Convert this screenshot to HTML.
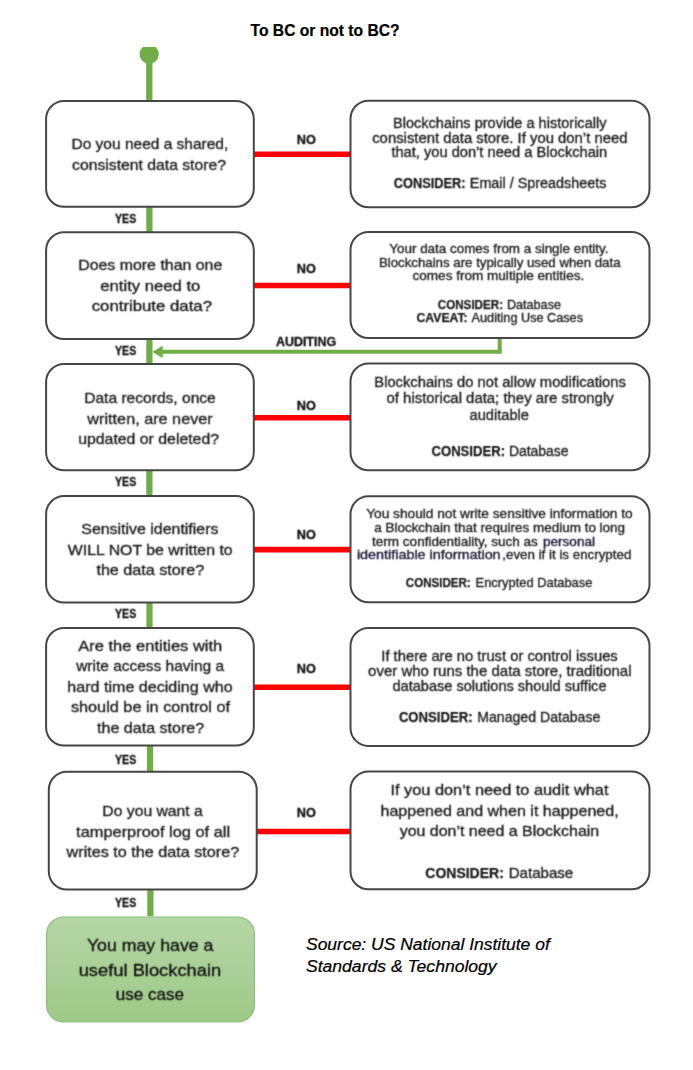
<!DOCTYPE html>
<html><head><meta charset="utf-8"><title>To BC or not to BC?</title>
<style>
html,body{margin:0;padding:0;background:#fff;}
body{width:693px;height:1070px;overflow:hidden;position:relative;}
svg{position:absolute;left:0;top:0;display:block;}
text{font-family:"Liberation Sans", sans-serif;}
</style></head><body>
<svg width="693" height="1070" viewBox="0 0 693 1070">
<filter id="bl" x="0" y="0" width="693" height="1070" filterUnits="userSpaceOnUse"><feConvolveMatrix order="3" kernelMatrix="0.02768 0.11101 0.02768 0.11101 0.44521 0.11101 0.02768 0.11101 0.02768" preserveAlpha="false"/></filter>
<line x1="149.3" y1="56.0" x2="149.3" y2="101.0" stroke="#70ad47" stroke-width="6.3"/>
<line x1="149.4" y1="206.8" x2="149.4" y2="232.2" stroke="#70ad47" stroke-width="6.2"/>
<line x1="149.4" y1="339.0" x2="149.4" y2="364.0" stroke="#70ad47" stroke-width="6.2"/>
<line x1="149.4" y1="470.2" x2="149.4" y2="495.9" stroke="#70ad47" stroke-width="6.2"/>
<line x1="149.5" y1="602.6" x2="149.5" y2="628.0" stroke="#70ad47" stroke-width="6.2"/>
<line x1="150.0" y1="745.6" x2="150.0" y2="771.7" stroke="#70ad47" stroke-width="6.2"/>
<line x1="150.4" y1="889.5" x2="150.4" y2="916.2" stroke="#70ad47" stroke-width="6.2"/>
<line x1="253.8" y1="154.3" x2="350.5" y2="154.3" stroke="#ff0000" stroke-width="5.6"/>
<line x1="253.8" y1="285.5" x2="350.5" y2="285.5" stroke="#ff0000" stroke-width="5.6"/>
<line x1="253.8" y1="417.8" x2="350.5" y2="417.8" stroke="#ff0000" stroke-width="5.6"/>
<line x1="253.8" y1="549.6" x2="350.5" y2="549.6" stroke="#ff0000" stroke-width="5.6"/>
<line x1="253.8" y1="687.3" x2="350.5" y2="687.3" stroke="#ff0000" stroke-width="5.6"/>
<line x1="256.7" y1="831.5" x2="350.5" y2="831.5" stroke="#ff0000" stroke-width="5.6"/>
<line x1="499.7" y1="338.1" x2="499.7" y2="351.8" stroke="#70ad47" stroke-width="4"/>
<line x1="501.7" y1="351.8" x2="160.0" y2="351.8" stroke="#70ad47" stroke-width="3.9"/>
<polygon points="152.3,351.9 162.7,345.8 162.7,357.9" fill="#70ad47"/>
<clipPath id="cc"><rect x="130" y="46.9" width="40" height="30"/></clipPath><circle cx="149.2" cy="54.2" r="9.6" fill="#70ad47" clip-path="url(#cc)"/>
<rect x="46.1" y="100.9" width="207.7" height="105.9" rx="18" ry="18" fill="#fff" stroke="#464646" stroke-width="2"/>
<rect x="46.1" y="232.2" width="207.7" height="106.8" rx="18" ry="18" fill="#fff" stroke="#464646" stroke-width="2"/>
<rect x="46.1" y="364.0" width="207.7" height="106.2" rx="18" ry="18" fill="#fff" stroke="#464646" stroke-width="2"/>
<rect x="46.1" y="495.9" width="207.7" height="106.7" rx="18" ry="18" fill="#fff" stroke="#464646" stroke-width="2"/>
<rect x="46.1" y="628.0" width="207.7" height="117.6" rx="18" ry="18" fill="#fff" stroke="#464646" stroke-width="2"/>
<rect x="48.8" y="771.7" width="207.9" height="117.8" rx="18" ry="18" fill="#fff" stroke="#464646" stroke-width="2"/>
<rect x="350.5" y="100.8" width="299.0" height="106.5" rx="18" ry="18" fill="#fff" stroke="#464646" stroke-width="2"/>
<rect x="350.5" y="232.0" width="299.0" height="106.1" rx="18" ry="18" fill="#fff" stroke="#464646" stroke-width="2"/>
<rect x="350.5" y="363.5" width="299.0" height="106.8" rx="18" ry="18" fill="#fff" stroke="#464646" stroke-width="2"/>
<rect x="350.5" y="496.3" width="299.0" height="105.9" rx="18" ry="18" fill="#fff" stroke="#464646" stroke-width="2"/>
<rect x="350.5" y="627.9" width="299.0" height="118.0" rx="18" ry="18" fill="#fff" stroke="#464646" stroke-width="2"/>
<rect x="350.5" y="771.5" width="299.0" height="117.8" rx="18" ry="18" fill="#fff" stroke="#464646" stroke-width="2"/>
<defs><linearGradient id="g" x1="0" y1="0" x2="0" y2="1"><stop offset="0" stop-color="#b5d6a6"/><stop offset="1" stop-color="#9ec987"/></linearGradient></defs>
<rect x="46.6" y="917.0" width="207.9" height="105.0" rx="17" ry="17" fill="url(#g)" stroke="#90bf7c" stroke-width="1.2"/>
<g filter="url(#bl)">
<text x="71.50" y="148.80" font-size="14.60" textLength="156.77" lengthAdjust="spacingAndGlyphs" fill="#1a1a1a" stroke="#1a1a1a" stroke-width="0.3">Do you need a shared,</text>
<text x="72.10" y="169.60" font-size="14.60" textLength="153.88" lengthAdjust="spacingAndGlyphs" fill="#1a1a1a" stroke="#1a1a1a" stroke-width="0.3">consistent data store?</text>
<text x="78.20" y="270.30" font-size="14.60" textLength="144.12" lengthAdjust="spacingAndGlyphs" fill="#1a1a1a" stroke="#1a1a1a" stroke-width="0.3">Does more than one</text>
<text x="100.30" y="291.00" font-size="14.60" textLength="99.99" lengthAdjust="spacingAndGlyphs" fill="#1a1a1a" stroke="#1a1a1a" stroke-width="0.3">entity need to</text>
<text x="91.70" y="311.30" font-size="14.60" textLength="120.33" lengthAdjust="spacingAndGlyphs" fill="#1a1a1a" stroke="#1a1a1a" stroke-width="0.3">contribute data?</text>
<text x="84.20" y="402.80" font-size="14.60" textLength="131.58" lengthAdjust="spacingAndGlyphs" fill="#1a1a1a" stroke="#1a1a1a" stroke-width="0.3">Data records, once</text>
<text x="87.38" y="423.60" font-size="14.60" textLength="125.33" lengthAdjust="spacingAndGlyphs" fill="#1a1a1a" stroke="#1a1a1a" stroke-width="0.3">written, are never</text>
<text x="78.20" y="443.80" font-size="14.60" textLength="140.83" lengthAdjust="spacingAndGlyphs" fill="#1a1a1a" stroke="#1a1a1a" stroke-width="0.3">updated or deleted?</text>
<text x="81.30" y="534.30" font-size="14.60" textLength="137.11" lengthAdjust="spacingAndGlyphs" fill="#1a1a1a" stroke="#1a1a1a" stroke-width="0.3">Sensitive identifiers</text>
<text x="67.80" y="554.60" font-size="14.60" textLength="164.86" lengthAdjust="spacingAndGlyphs" fill="#1a1a1a" stroke="#1a1a1a" stroke-width="0.3">WILL NOT be written to</text>
<text x="96.40" y="575.30" font-size="14.60" textLength="107.82" lengthAdjust="spacingAndGlyphs" fill="#1a1a1a" stroke="#1a1a1a" stroke-width="0.3">the data store?</text>
<text x="78.20" y="650.60" font-size="14.60" textLength="144.13" lengthAdjust="spacingAndGlyphs" fill="#1a1a1a" stroke="#1a1a1a" stroke-width="0.3">Are the entities with</text>
<text x="76.18" y="670.80" font-size="14.60" textLength="147.95" lengthAdjust="spacingAndGlyphs" fill="#1a1a1a" stroke="#1a1a1a" stroke-width="0.3">write access having a</text>
<text x="67.30" y="691.60" font-size="14.60" textLength="165.38" lengthAdjust="spacingAndGlyphs" fill="#1a1a1a" stroke="#1a1a1a" stroke-width="0.3">hard time deciding who</text>
<text x="70.90" y="712.40" font-size="14.60" textLength="159.19" lengthAdjust="spacingAndGlyphs" fill="#1a1a1a" stroke="#1a1a1a" stroke-width="0.3">should be in control of</text>
<text x="97.10" y="733.20" font-size="14.60" textLength="107.12" lengthAdjust="spacingAndGlyphs" fill="#1a1a1a" stroke="#1a1a1a" stroke-width="0.3">the data store?</text>
<text x="102.30" y="816.30" font-size="14.60" textLength="100.56" lengthAdjust="spacingAndGlyphs" fill="#1a1a1a" stroke="#1a1a1a" stroke-width="0.3">Do you want a</text>
<text x="76.10" y="836.60" font-size="14.60" textLength="153.99" lengthAdjust="spacingAndGlyphs" fill="#1a1a1a" stroke="#1a1a1a" stroke-width="0.3">tamperproof log of all</text>
<text x="66.58" y="857.30" font-size="14.60" textLength="172.58" lengthAdjust="spacingAndGlyphs" fill="#1a1a1a" stroke="#1a1a1a" stroke-width="0.3">writes to the data store?</text>
<text x="393.00" y="128.20" font-size="14.00" textLength="213.48" lengthAdjust="spacingAndGlyphs" fill="#1a1a1a" stroke="#1a1a1a" stroke-width="0.3">Blockchains provide a historically</text>
<text x="372.20" y="142.80" font-size="14.00" textLength="255.27" lengthAdjust="spacingAndGlyphs" fill="#1a1a1a" stroke="#1a1a1a" stroke-width="0.3">consistent data store. If you don’t need</text>
<text x="391.40" y="157.20" font-size="14.00" textLength="215.87" lengthAdjust="spacingAndGlyphs" fill="#1a1a1a" stroke="#1a1a1a" stroke-width="0.3">that, you don’t need a Blockchain</text>
<text x="393.70" y="187.90" font-size="14.00" textLength="71.82" lengthAdjust="spacingAndGlyphs" fill="#1a1a1a" stroke="#1a1a1a" stroke-width="0.25"><tspan font-weight="bold">CONSIDER:</tspan></text>
<text x="469.80" y="187.90" font-size="14.00" textLength="136.70" lengthAdjust="spacingAndGlyphs" fill="#1a1a1a" stroke="#1a1a1a" stroke-width="0.3">Email / Spreadsheets</text>
<text x="389.30" y="253.20" font-size="12.20" textLength="219.23" lengthAdjust="spacingAndGlyphs" fill="#1a1a1a" stroke="#1a1a1a" stroke-width="0.3">Your data comes from a single entity.</text>
<text x="378.90" y="267.20" font-size="12.20" textLength="241.67" lengthAdjust="spacingAndGlyphs" fill="#1a1a1a" stroke="#1a1a1a" stroke-width="0.3">Blockchains are typically used when data</text>
<text x="412.50" y="280.40" font-size="12.20" textLength="171.72" lengthAdjust="spacingAndGlyphs" fill="#1a1a1a" stroke="#1a1a1a" stroke-width="0.3">comes from multiple entities.</text>
<text x="437.80" y="309.00" font-size="12.20" textLength="65.22" lengthAdjust="spacingAndGlyphs" fill="#1a1a1a" stroke="#1a1a1a" stroke-width="0.25"><tspan font-weight="bold">CONSIDER:</tspan></text>
<text x="506.90" y="309.00" font-size="12.20" textLength="54.11" lengthAdjust="spacingAndGlyphs" fill="#1a1a1a" stroke="#1a1a1a" stroke-width="0.3">Database</text>
<text x="416.50" y="322.30" font-size="12.20" textLength="51.20" lengthAdjust="spacingAndGlyphs" fill="#1a1a1a" stroke="#1a1a1a" stroke-width="0.25"><tspan font-weight="bold">CAVEAT:</tspan></text>
<text x="471.60" y="322.30" font-size="12.20" textLength="111.43" lengthAdjust="spacingAndGlyphs" fill="#1a1a1a" stroke="#1a1a1a" stroke-width="0.3">Auditing Use Cases</text>
<text x="374.30" y="387.00" font-size="14.00" textLength="251.60" lengthAdjust="spacingAndGlyphs" fill="#1a1a1a" stroke="#1a1a1a" stroke-width="0.3">Blockchains do not allow modifications</text>
<text x="386.50" y="403.00" font-size="14.00" textLength="227.20" lengthAdjust="spacingAndGlyphs" fill="#1a1a1a" stroke="#1a1a1a" stroke-width="0.3">of historical data; they are strongly</text>
<text x="469.60" y="420.30" font-size="14.00" textLength="59.29" lengthAdjust="spacingAndGlyphs" fill="#1a1a1a" stroke="#1a1a1a" stroke-width="0.3">auditable</text>
<text x="431.50" y="455.70" font-size="14.00" textLength="73.52" lengthAdjust="spacingAndGlyphs" fill="#1a1a1a" stroke="#1a1a1a" stroke-width="0.25"><tspan font-weight="bold">CONSIDER:</tspan></text>
<text x="508.90" y="455.70" font-size="14.00" textLength="59.61" lengthAdjust="spacingAndGlyphs" fill="#1a1a1a" stroke="#1a1a1a" stroke-width="0.3">Database</text>
<text x="366.20" y="517.70" font-size="12.20" textLength="266.49" lengthAdjust="spacingAndGlyphs" fill="#1a1a1a" stroke="#1a1a1a" stroke-width="0.3">You should not write sensitive information to</text>
<text x="374.20" y="532.00" font-size="12.20" textLength="250.92" lengthAdjust="spacingAndGlyphs" fill="#1a1a1a" stroke="#1a1a1a" stroke-width="0.3">a Blockchain that requires medium to long</text>
<text x="372.10" y="545.50" font-size="12.20" textLength="165.70" lengthAdjust="spacingAndGlyphs" fill="#1a1a1a" stroke="#1a1a1a" stroke-width="0.3">term confidentiality, such as</text>
<text x="543.00" y="545.50" font-size="12.20" textLength="52.01" lengthAdjust="spacingAndGlyphs" fill="#1a1a1a" stroke="#1a1a1a" stroke-width="0.3"><tspan fill="#15112e" stroke="#15112e">personal</tspan></text>
<text x="356.90" y="558.90" font-size="12.20" textLength="143.72" lengthAdjust="spacingAndGlyphs" fill="#1a1a1a" stroke="#1a1a1a" stroke-width="0.3"><tspan fill="#15112e" stroke="#15112e">identifiable information</tspan></text>
<text x="502.30" y="558.90" font-size="12.20" textLength="129.02" lengthAdjust="spacingAndGlyphs" fill="#1a1a1a" stroke="#1a1a1a" stroke-width="0.3">,even if it is encrypted</text>
<text x="405.80" y="587.00" font-size="12.20" textLength="64.92" lengthAdjust="spacingAndGlyphs" fill="#1a1a1a" stroke="#1a1a1a" stroke-width="0.25"><tspan font-weight="bold">CONSIDER:</tspan></text>
<text x="475.60" y="587.00" font-size="12.20" textLength="116.72" lengthAdjust="spacingAndGlyphs" fill="#1a1a1a" stroke="#1a1a1a" stroke-width="0.3">Encrypted Database</text>
<text x="381.30" y="660.60" font-size="14.20" textLength="236.46" lengthAdjust="spacingAndGlyphs" fill="#1a1a1a" stroke="#1a1a1a" stroke-width="0.3">If there are no trust or control issues</text>
<text x="368.10" y="675.80" font-size="14.20" textLength="263.41" lengthAdjust="spacingAndGlyphs" fill="#1a1a1a" stroke="#1a1a1a" stroke-width="0.3">over who runs the data store, traditional</text>
<text x="392.50" y="690.90" font-size="14.20" textLength="213.99" lengthAdjust="spacingAndGlyphs" fill="#1a1a1a" stroke="#1a1a1a" stroke-width="0.3">database solutions should suffice</text>
<text x="398.90" y="721.50" font-size="14.20" textLength="73.62" lengthAdjust="spacingAndGlyphs" fill="#1a1a1a" stroke="#1a1a1a" stroke-width="0.25"><tspan font-weight="bold">CONSIDER:</tspan></text>
<text x="477.30" y="721.50" font-size="14.20" textLength="122.98" lengthAdjust="spacingAndGlyphs" fill="#1a1a1a" stroke="#1a1a1a" stroke-width="0.3">Managed Database</text>
<text x="390.40" y="794.70" font-size="14.20" textLength="218.07" lengthAdjust="spacingAndGlyphs" fill="#1a1a1a" stroke="#1a1a1a" stroke-width="0.3">If you don’t need to audit what</text>
<text x="380.50" y="815.50" font-size="14.20" textLength="238.13" lengthAdjust="spacingAndGlyphs" fill="#1a1a1a" stroke="#1a1a1a" stroke-width="0.3">happened and when it happened,</text>
<text x="399.70" y="836.30" font-size="14.20" textLength="199.49" lengthAdjust="spacingAndGlyphs" fill="#1a1a1a" stroke="#1a1a1a" stroke-width="0.3">you don’t need a Blockchain</text>
<text x="425.30" y="877.80" font-size="14.20" textLength="78.52" lengthAdjust="spacingAndGlyphs" fill="#1a1a1a" stroke="#1a1a1a" stroke-width="0.25"><tspan font-weight="bold">CONSIDER:</tspan></text>
<text x="508.70" y="877.80" font-size="14.20" textLength="64.51" lengthAdjust="spacingAndGlyphs" fill="#1a1a1a" stroke="#1a1a1a" stroke-width="0.3">Database</text>
<text x="86.90" y="951.30" font-size="17.20" textLength="126.51" lengthAdjust="spacingAndGlyphs" fill="#111" stroke="#111" stroke-width="0.3">You may have a</text>
<text x="78.70" y="975.60" font-size="17.20" textLength="142.54" lengthAdjust="spacingAndGlyphs" fill="#111" stroke="#111" stroke-width="0.3">useful Blockchain</text>
<text x="115.70" y="999.50" font-size="17.20" textLength="68.36" lengthAdjust="spacingAndGlyphs" fill="#111" stroke="#111" stroke-width="0.3">use case</text>
<text x="296.80" y="144.40" font-size="13.00" textLength="19.00" lengthAdjust="spacingAndGlyphs" fill="#111" stroke="#111" stroke-width="0.3"><tspan font-weight="bold">NO</tspan></text>
<text x="296.80" y="273.00" font-size="13.00" textLength="19.00" lengthAdjust="spacingAndGlyphs" fill="#111" stroke="#111" stroke-width="0.3"><tspan font-weight="bold">NO</tspan></text>
<text x="296.80" y="410.40" font-size="13.00" textLength="19.00" lengthAdjust="spacingAndGlyphs" fill="#111" stroke="#111" stroke-width="0.3"><tspan font-weight="bold">NO</tspan></text>
<text x="296.80" y="538.80" font-size="13.00" textLength="19.00" lengthAdjust="spacingAndGlyphs" fill="#111" stroke="#111" stroke-width="0.3"><tspan font-weight="bold">NO</tspan></text>
<text x="296.80" y="672.70" font-size="13.00" textLength="19.00" lengthAdjust="spacingAndGlyphs" fill="#111" stroke="#111" stroke-width="0.3"><tspan font-weight="bold">NO</tspan></text>
<text x="296.80" y="816.90" font-size="13.00" textLength="19.00" lengthAdjust="spacingAndGlyphs" fill="#111" stroke="#111" stroke-width="0.3"><tspan font-weight="bold">NO</tspan></text>
<text x="115.00" y="222.70" font-size="13.00" textLength="21.21" lengthAdjust="spacingAndGlyphs" fill="#111" stroke="#111" stroke-width="0.3"><tspan font-weight="bold">YES</tspan></text>
<text x="115.00" y="355.00" font-size="13.00" textLength="21.21" lengthAdjust="spacingAndGlyphs" fill="#111" stroke="#111" stroke-width="0.3"><tspan font-weight="bold">YES</tspan></text>
<text x="115.00" y="486.40" font-size="13.00" textLength="21.21" lengthAdjust="spacingAndGlyphs" fill="#111" stroke="#111" stroke-width="0.3"><tspan font-weight="bold">YES</tspan></text>
<text x="115.00" y="617.70" font-size="13.00" textLength="21.21" lengthAdjust="spacingAndGlyphs" fill="#111" stroke="#111" stroke-width="0.3"><tspan font-weight="bold">YES</tspan></text>
<text x="115.00" y="763.60" font-size="13.00" textLength="21.21" lengthAdjust="spacingAndGlyphs" fill="#111" stroke="#111" stroke-width="0.3"><tspan font-weight="bold">YES</tspan></text>
<text x="115.00" y="907.00" font-size="13.00" textLength="21.21" lengthAdjust="spacingAndGlyphs" fill="#111" stroke="#111" stroke-width="0.3"><tspan font-weight="bold">YES</tspan></text>
<text x="275.90" y="346.40" font-size="12.80" textLength="60.28" lengthAdjust="spacingAndGlyphs" fill="#111" stroke="#111" stroke-width="0.3"><tspan font-weight="bold">AUDITING</tspan></text>
</g>
<text x="250.60" y="36.40" font-size="16.20" textLength="148.90" lengthAdjust="spacingAndGlyphs" fill="#000" stroke="#000" stroke-width="0.2"><tspan font-weight="bold">To BC or not to BC?</tspan></text>
<text x="306.00" y="949.50" font-size="16.00" textLength="243.76" lengthAdjust="spacingAndGlyphs" fill="#000" stroke="#000" stroke-width="0.2"><tspan font-style="italic">Source: US National Institute of</tspan></text>
<text x="306.00" y="972.40" font-size="16.00" textLength="190.63" lengthAdjust="spacingAndGlyphs" fill="#000" stroke="#000" stroke-width="0.2"><tspan font-style="italic">Standards &amp; Technology</tspan></text>
</svg>
</body></html>
